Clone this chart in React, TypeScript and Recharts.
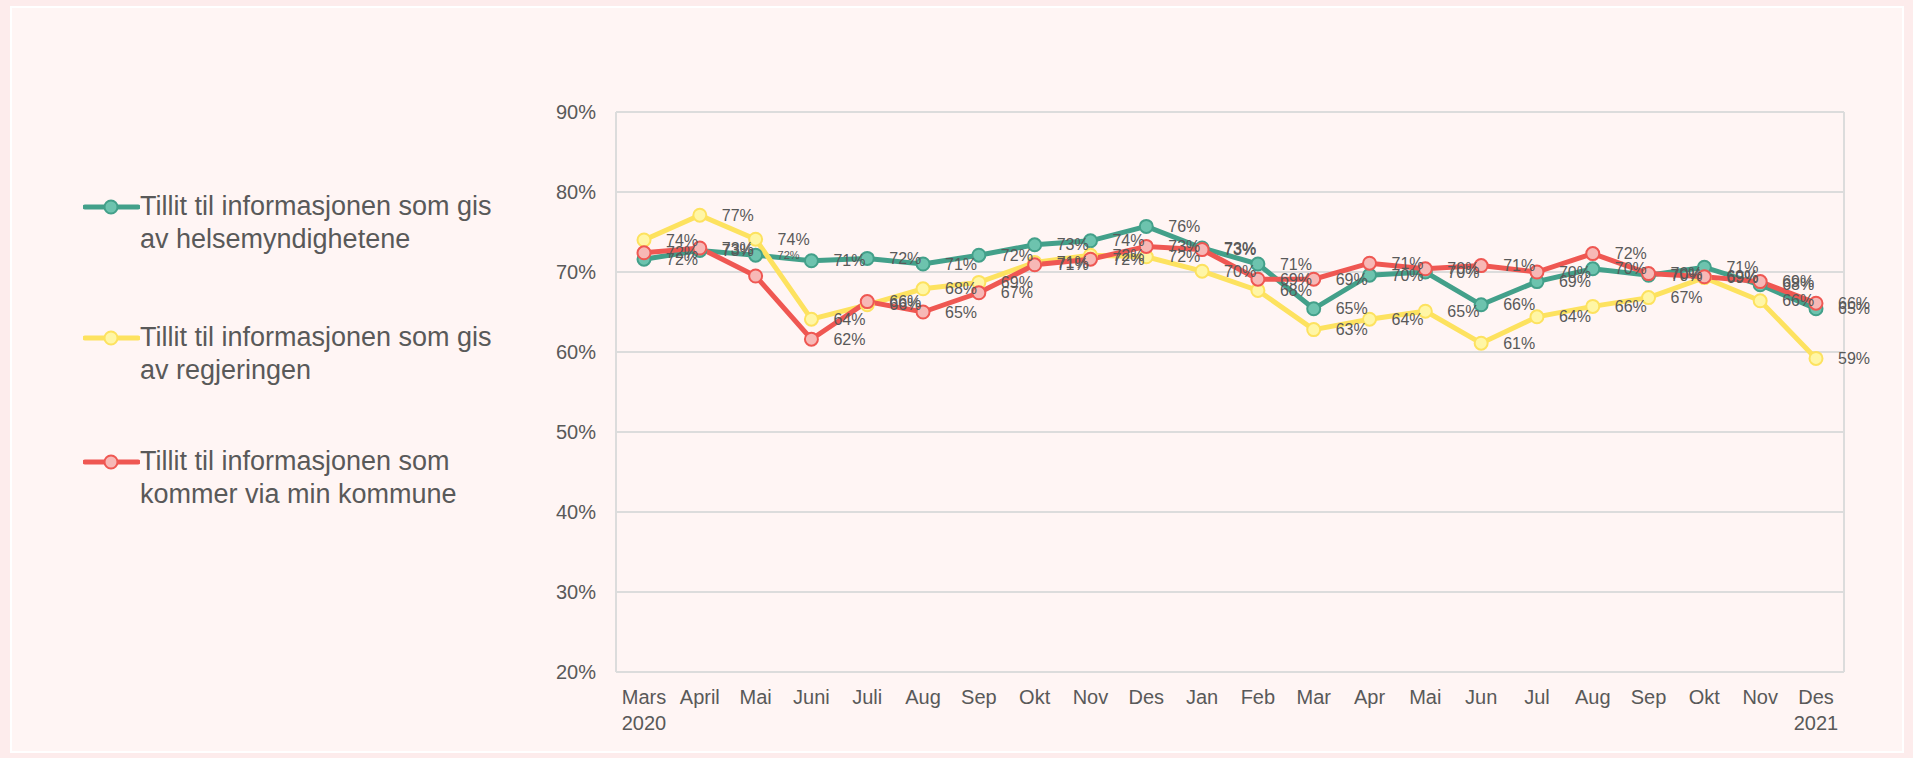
import { LineChart, Line, XAxis, YAxis, CartesianGrid, LabelList } from "recharts";

const months = ["Mars", "April", "Mai", "Juni", "Juli", "Aug", "Sep", "Okt", "Nov", "Des", "Jan", "Feb", "Mar", "Apr", "Mai", "Jun", "Jul", "Aug", "Sep", "Okt", "Nov", "Des"];
const firstYear = "2020";
const lastYear = "2021";

const helse = [71.6, 72.7, 72.1, 71.4, 71.7, 71.0, 72.1, 73.4, 73.9, 75.7, 73.0, 71.0, 65.4, 69.6, 70.0, 65.9, 68.8, 70.4, 69.6, 70.6, 68.4, 65.4];
const regjering = [74.0, 77.1, 74.1, 64.1, 65.9, 67.9, 68.7, 71.2, 72.1, 71.9, 70.1, 67.7, 62.8, 64.1, 65.1, 61.1, 64.4, 65.7, 66.8, 69.3, 66.4, 59.2];
const kommune = [72.4, 73.0, 69.5, 61.6, 66.3, 65.0, 67.4, 70.9, 71.6, 73.2, 72.8, 69.1, 69.1, 71.1, 70.4, 70.8, 70.0, 72.3, 69.8, 69.4, 68.8, 66.1];

const yTicks = [20, 30, 40, 50, 60, 70, 80, 90];

const seriesNames = [
  ["Tillit til informasjonen som gis", "av helsemyndighetene"],
  ["Tillit til informasjonen som gis", "av regjeringen"],
  ["Tillit til informasjonen som", "kommer via min kommune"],
];

const data = months.map((m, i) => ({
  id: i,
  month: m,
  helse: helse[i],
  regjering: regjering[i],
  kommune: kommune[i],
}));

const FONT = "'Liberation Sans', Arial, sans-serif";
const TEXT = "#595959";

const colors = [
  { line: "#43a08a", fill: "#6dc3ae" },
  { line: "#fde25f", fill: "#fff6a6" },
  { line: "#ef5752", fill: "#f7b8b6" },
];

function XTick(props: any) {
  const { x, y, payload } = props;
  const i = payload.value as number;
  const sub = i === 0 ? firstYear : i === months.length - 1 ? lastYear : "";
  return (
    <g>
      <text x={x} y={y + 30} textAnchor="middle" fontSize={20} fill={TEXT} fontFamily={FONT}>
        {months[i]}
      </text>
      {sub && (
        <text x={x} y={y + 56} textAnchor="middle" fontSize={20} fill={TEXT} fontFamily={FONT}>
          {sub}
        </text>
      )}
    </g>
  );
}

function makeLabel(series: number) {
  return (props: any) => {
    const { x, y, value, index } = props;
    // the reference has no label for kommune in Mai 2020, and a tiny one for helse
    if (series === 2 && index === 2) return null;
    const small = series === 0 && index === 2;
    return (
      <text
        x={x + 22}
        y={y}
        dominantBaseline="central"
        fontSize={small ? 11 : 16}
        fill={TEXT}
        fontFamily={FONT}
      >
        {Math.round(value)}%
      </text>
    );
  };
}

function LegendItem({ idx, top }: { idx: number; top: number }) {
  const c = colors[idx];
  return (
    <div style={{ position: "absolute", left: 83, top, display: "flex", alignItems: "flex-start" }}>
      <svg width={57} height={33} style={{ flex: "none" }}>
        <line x1={2} y1={17} x2={55} y2={17} stroke={c.line} strokeWidth={5} strokeLinecap="round" />
        <circle cx={28} cy={17} r={6.5} fill={c.fill} stroke={c.line} strokeWidth={2} />
      </svg>
      <div style={{ fontFamily: FONT, fontSize: 27, lineHeight: "33px", color: TEXT, whiteSpace: "nowrap" }}>
        {seriesNames[idx].map((t, k) => (
          <div key={k}>{t}</div>
        ))}
      </div>
    </div>
  );
}

export default function App() {
  const keys = ["helse", "regjering", "kommune"];
  return (
    <div style={{ position: "fixed", left: 0, top: 0, width: 1913, height: 758, background: "#fdecec" }}>
      <div
        style={{
          position: "absolute",
          left: 10,
          top: 6,
          width: 1890,
          height: 743,
          background: "#fff5f4",
          border: "2px solid #ffffff",
        }}
      />
      <div style={{ position: "absolute", left: 0, top: 0 }}>
        <LineChart
          width={1913}
          height={758}
          data={data}
          margin={{ top: 112, right: 69, left: 556, bottom: 26 }}
        >
          <CartesianGrid
            stroke="#dcdcdc"
            strokeWidth={2}
            verticalCoordinatesGenerator={({ offset }: any) => [offset.left, offset.left + offset.width]}
          />
          <XAxis
            dataKey="id"
            type="category"
            padding={{ left: 28, right: 28 }}
            axisLine={{ stroke: "#dcdcdc", strokeWidth: 2 }}
            tickLine={false}
            tickSize={0}
            tick={<XTick />}
            interval={0}
            height={60}
          />
          <YAxis
            domain={[20, 90]}
            ticks={yTicks}
            tickFormatter={(v) => `${v}%`}
            axisLine={false}
            tickLine={false}
            tickSize={0}
            tickMargin={20}
            width={60}
            tick={{ fill: TEXT, fontSize: 20, fontFamily: FONT }}
          />
          {keys.map((k, i) => (
            <Line
              key={k}
              dataKey={k}
              stroke={colors[i].line}
              strokeWidth={5}
              dot={{ r: 6.5, fill: colors[i].fill, stroke: colors[i].line, strokeWidth: 2 }}
              activeDot={false}
              isAnimationActive={false}
            >
              <LabelList dataKey={k} content={makeLabel(i)} />
            </Line>
          ))}
        </LineChart>
      </div>
      <LegendItem idx={0} top={190} />
      <LegendItem idx={1} top={321} />
      <LegendItem idx={2} top={445} />
    </div>
  );
}
